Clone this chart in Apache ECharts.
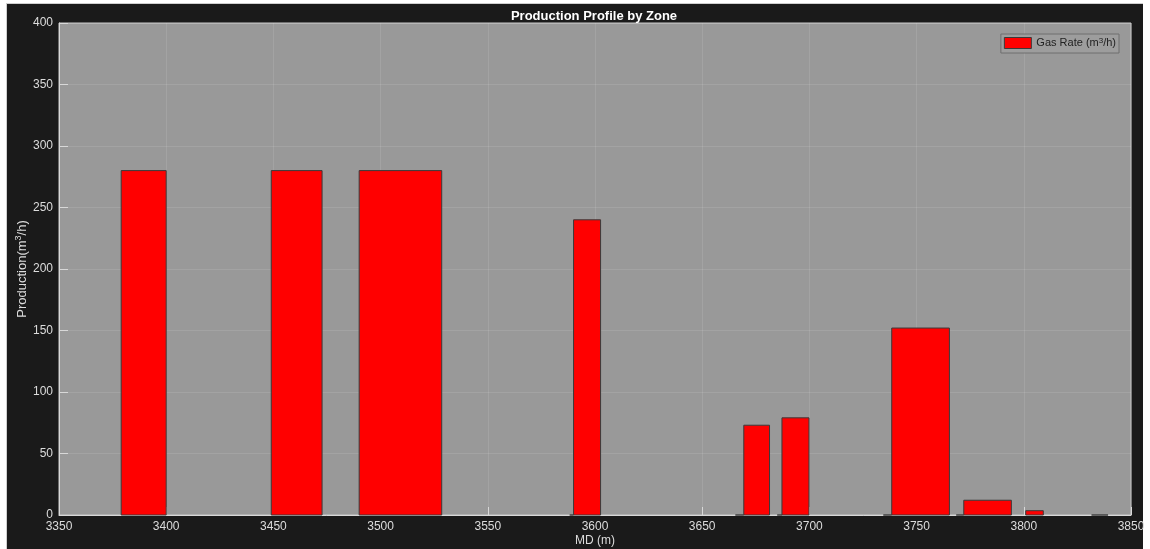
<!DOCTYPE html>
<html>
<head>
<meta charset="utf-8">
<title>Production Profile by Zone</title>
<script src="https://cdn.jsdelivr.net/npm/echarts@6/dist/echarts.min.js"></script>
<style>
  html, body { margin: 0; padding: 0; background: #ffffff; }
  #frame {
    position: absolute; left: 6px; top: 3px; width: 1137px; height: 546px;
    background: #1a1a1a; border-left: 1px solid #cfcfcf; border-top: 1px solid #cfcfcf;
    box-sizing: border-box;
  }
  #chart { position: absolute; left: 0; top: 0; width: 1150px; height: 549px; }
</style>
</head>
<body>
<div id="frame"></div>
<div id="chart"></div>
<script>
// Producing zones along the wellbore: top MD, bottom MD (m) and gas rate (m3/h)
const zoneTop    = [3379, 3449, 3490, 3588.2, 3590, 3665.5, 3669.4, 3685, 3687.2, 3734.5, 3738.4, 3768.5, 3772, 3800.9, 3831.6];
const zoneBottom = [3400, 3472.7, 3528.5, 3590, 3602.6, 3669.4, 3681.4, 3687.2, 3699.8, 3738.4, 3765.3, 3772, 3794.2, 3809.1, 3839.3];
const gasRate    = [280, 280, 280, 0, 240, 0, 73, 0, 79, 0, 152, 0, 12, 3.5, 0];

const mdTicks = [3350, 3850, 50];     // min, max, step
const rateTicks = [0, 400, 50];

const zones = zoneTop.map((t, i) => [t, zoneBottom[i], gasRate[i]]);

const labelColor = '#dcdcdc';
const fontFamily = '"Liberation Sans", Arial, Helvetica, sans-serif';

const chart = echarts.init(document.getElementById('chart'), null, { renderer: 'canvas' });

chart.setOption({
  backgroundColor: 'transparent',
  animation: false,
  textStyle: { fontFamily: fontFamily },
  title: {
    text: 'Production Profile by Zone',
    left: 589, top: 5, textAlign: 'center',
    textStyle: { color: '#ffffff', fontSize: 13, fontWeight: 'bold', fontFamily: fontFamily }
  },
  legend: {
    right: 31, top: 34,
    orient: 'vertical',
    itemWidth: 27, itemHeight: 11, itemGap: 0,
    padding: [3, 3, 3, 3],
    backgroundColor: '#9d9d9d',
    borderColor: '#6e6e6e', borderWidth: 1,
    icon: 'rect',
    data: [{ name: 'Gas Rate', itemStyle: { color: '#ff0000', borderColor: '#3a3a3a', borderWidth: 1 } }],
    formatter: () => '{t|Gas Rate (m}{s|3}{t|/h)}',
    textStyle: {
      rich: {
        t: { fontSize: 11, color: '#222222', fontFamily: fontFamily, lineHeight: 12 },
        s: { fontSize: 8, color: '#222222', fontFamily: fontFamily, verticalAlign: 'top', lineHeight: 12, padding: [0, 0, 5, 0] }
      }
    }
  },
  grid: {
    left: 59, right: 19, top: 23, bottom: 34,
    outerBoundsMode: 'none',
    containLabel: false,
    show: true, backgroundColor: '#999999',
    borderColor: '#c8c8c8', borderWidth: 1
  },
  xAxis: {
    type: 'value',
    min: mdTicks[0], max: mdTicks[1], interval: mdTicks[2],
    name: 'MD (m)', nameLocation: 'middle', nameGap: 20, nameMoveOverlap: false,
    nameTextStyle: { color: labelColor, fontSize: 12, fontFamily: fontFamily },
    axisLine: { show: true, lineStyle: { color: '#d8d8d8', width: 1 } },
    axisTick: { show: true, inside: true, length: 8, lineStyle: { color: '#d8d8d8' } },
    axisLabel: { color: labelColor, fontSize: 12, margin: 6, fontFamily: fontFamily, formatter: v => String(v) },
    splitLine: { show: true, lineStyle: { color: 'rgba(255,255,255,0.1)', width: 1 } }
  },
  yAxis: {
    type: 'value',
    min: rateTicks[0], max: rateTicks[1], interval: rateTicks[2],
    name: '{t|Production(m}{s|3}{t|/h)}', nameLocation: 'middle', nameGap: 29, nameRotate: 90,
    nameMoveOverlap: false,
    nameTextStyle: {
      rich: {
        t: { color: labelColor, fontSize: 13, fontFamily: fontFamily, lineHeight: 16 },
        s: { color: labelColor, fontSize: 9, fontFamily: fontFamily, verticalAlign: 'top', lineHeight: 16, padding: [0, 0, 6, 0] }
      }
    },
    axisLine: { show: true, lineStyle: { color: '#d8d8d8', width: 1 } },
    axisTick: { show: true, inside: true, length: 9, lineStyle: { color: '#d8d8d8' } },
    axisLabel: { color: labelColor, fontSize: 12, margin: 6, fontFamily: fontFamily, formatter: v => String(v) },
    splitLine: { show: true, lineStyle: { color: 'rgba(255,255,255,0.1)', width: 1 } }
  },
  series: [{
    name: 'Gas Rate',
    type: 'custom',
    itemStyle: { color: '#ff0000', borderColor: '#3a3a3a', borderWidth: 1 },
    encode: { x: [0, 1], y: 2 },
    data: zones,
    renderItem: function (params, api) {
      const topLeft = api.coord([api.value(0), api.value(2)]);
      const bottomRight = api.coord([api.value(1), 0]);
      return {
        type: 'rect',
        shape: {
          x: topLeft[0], y: topLeft[1],
          width: bottomRight[0] - topLeft[0],
          height: bottomRight[1] - topLeft[1]
        },
        style: { fill: '#ff0000', stroke: '#3a3a3a', lineWidth: 1 }
      };
    }
  }]
});
</script>
</body>
</html>
